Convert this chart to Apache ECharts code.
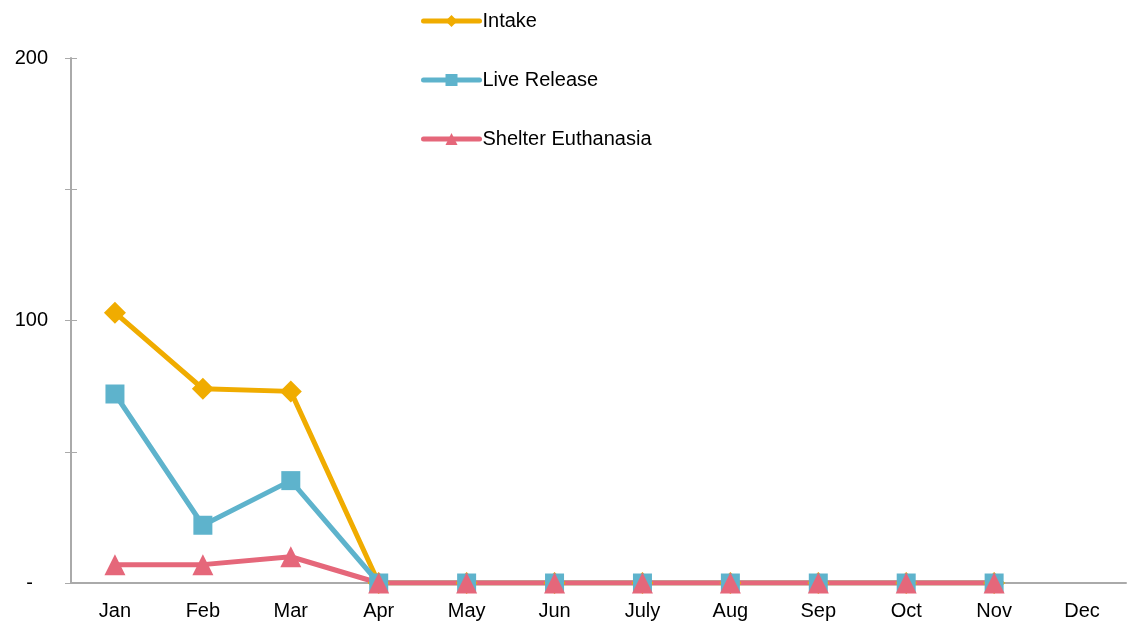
<!DOCTYPE html>
<html>
<head>
<meta charset="utf-8">
<script src="https://cdn.jsdelivr.net/npm/echarts@6/dist/echarts.min.js"></script>
<style>
  html, body { margin: 0; padding: 0; background: #fff; }
  #chart { width: 1128px; height: 621px; }
</style>
</head>
<body>
<div id="chart"></div>
<script>
// monthly counts
const months = ['Jan', 'Feb', 'Mar', 'Apr', 'May', 'Jun', 'July', 'Aug', 'Sep', 'Oct', 'Nov', 'Dec'];
const intake = [103, 74, 73, 0, 0, 0, 0, 0, 0, 0, 0, null];
const liveRelease = [72, 22, 39, 0, 0, 0, 0, 0, 0, 0, 0, null];
const euthanasia = [7, 7, 10, 0, 0, 0, 0, 0, 0, 0, 0, null];

const font = '"Liberation Sans", Arial, sans-serif';
const chart = echarts.init(document.getElementById('chart'));

function lineSeries(name, data, color, symbol, size) {
  return {
    name: name,
    type: 'line',
    yAxisIndex: 0,
    data: data,
    symbol: symbol,
    symbolSize: size,
    showAllSymbol: true,
    lineStyle: { width: 5, color: color },
    itemStyle: { color: color },
    animation: false
  };
}

chart.setOption({
  backgroundColor: '#fff',
  grid: { left: 71, right: 2, top: 58, bottom: 38 },
  legend: {
    orient: 'vertical',
    left: 416,
    top: 6,
    itemWidth: 56,
    itemHeight: 15,
    itemGap: 39,
    lineStyle: { width: 5, cap: 'round' },
    textStyle: { fontFamily: font, fontSize: 20, color: '#000', padding: [0, 0, 0, -2] },
    data: ['Intake', 'Live Release', 'Shelter Euthanasia']
  },
  xAxis: {
    type: 'category',
    data: months,
    boundaryGap: true,
    axisLine: { lineStyle: { color: '#aaa', width: 2 } },
    axisTick: { alignWithLabel: true, length: 5, lineStyle: { color: '#aaa' } },
    axisLabel: { fontFamily: font, fontSize: 20, color: '#000', margin: 18 }
  },
  yAxis: [
    {
      type: 'value',
      min: 0,
      max: 200,
      interval: 50,
      axisLine: { show: true, lineStyle: { color: '#aaa', width: 2 } },
      axisTick: { show: true, length: 6, lineStyle: { color: '#aaa' } },
      splitLine: { show: false },
      axisLabel: {
        fontFamily: font,
        fontSize: 20,
        color: '#000',
        margin: 23,
        formatter: function (v) {
          if (v === 0) return '{dash|-}';
          return v % 100 === 0 ? String(v) : '';
        },
        rich: {
          dash: { fontFamily: font, fontSize: 20, color: '#000', padding: [0, 15, 0, 0] }
        }
      }
    },
    {
      type: 'value',
      min: 0,
      max: 200,
      interval: 50,
      position: 'left',
      axisLine: { show: false },
      axisTick: { show: true, inside: true, length: 6, lineStyle: { color: '#aaa' } },
      splitLine: { show: false },
      axisLabel: { show: false }
    }
  ],
  series: [
    lineSeries('Intake', intake, '#F0AC00', 'diamond', 22),
    lineSeries('Live Release', liveRelease, '#5EB3CC', 'rect', 19),
    lineSeries('Shelter Euthanasia', euthanasia, '#E5677A', 'triangle', 21)
  ]
});
</script>
</body>
</html>
